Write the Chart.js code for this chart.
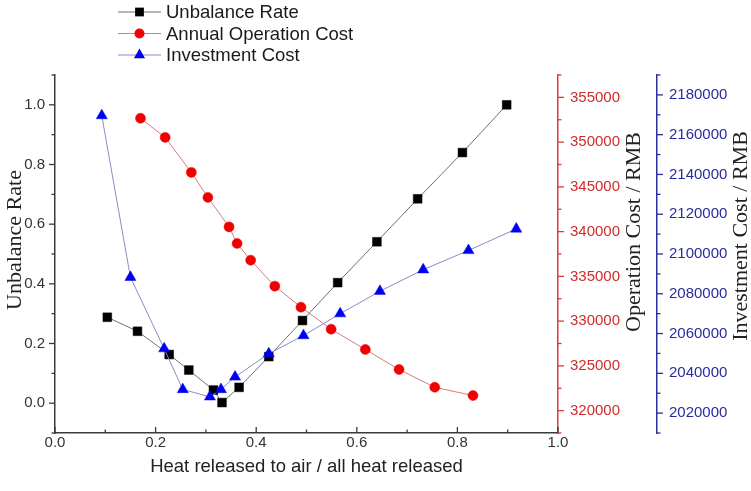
<!DOCTYPE html>
<html>
<head>
<meta charset="utf-8">
<script src="https://cdn.jsdelivr.net/npm/chart.js@4/dist/chart.umd.min.js"></script>
<style>
  html, body { margin: 0; padding: 0; background: #fff; }
  #wrap { width: 751px; height: 491px; }
</style>
</head>
<body>
<div id="wrap"><canvas id="c" width="751" height="491"></canvas></div>
<script>
// Share of heat released to air (x) for each series
const unbalanceX = [0.104, 0.164, 0.227, 0.266, 0.315, 0.332, 0.366, 0.425, 0.492, 0.562, 0.640, 0.721, 0.810, 0.898];
const unbalanceRate = [0.288, 0.241, 0.163, 0.111, 0.044, 0.002, 0.053, 0.156, 0.277, 0.404, 0.541, 0.685, 0.840, 1.000];

const operationX = [0.170, 0.219, 0.271, 0.304, 0.346, 0.362, 0.389, 0.437, 0.489, 0.549, 0.617, 0.684, 0.755, 0.831];
const operationCost = [352660, 350530, 346620, 343820, 340530, 338680, 336810, 333910, 331560, 329100, 326830, 324590, 322610, 321680];

const investmentX = [0.093, 0.150, 0.217, 0.254, 0.308, 0.330, 0.358, 0.425, 0.494, 0.567, 0.646, 0.732, 0.822, 0.917];
const investmentCost = [2169600, 2088300, 2052400, 2031900, 2028200, 2031900, 2038200, 2049900, 2059000, 2070000, 2081300, 2092100, 2101800, 2112600];

// Labelled tick values for each axis
const xTicks = [0.0, 0.2, 0.4, 0.6, 0.8, 1.0];
const rateTicks = [0.0, 0.2, 0.4, 0.6, 0.8, 1.0];
const operationTicks = [320000, 325000, 330000, 335000, 340000, 345000, 350000, 355000];
const investmentTicks = [2020000, 2040000, 2060000, 2080000, 2100000, 2120000, 2140000, 2160000, 2180000];

const seriesNames = ['Unbalance Rate', 'Annual Operation Cost', 'Investment Cost'];
const xTitle = 'Heat released to air / all heat released';
const rateTitle = 'Unbalance Rate';
const operationTitle = 'Operation Cost / RMB';
const investmentTitle = 'Investment Cost / RMB';

const SANS = '"Liberation Sans", Arial, sans-serif';
const SERIF = '"Liberation Serif", "Times New Roman", serif';
const RED_AXIS = '#dd3b3b';
const RED_TEXT = '#d02c2c';
const BLUE_AXIS = '#2e2e9e';
const BLUE_TEXT = '#2a2aa0';
const DARK = '#3a3a3a';

const toPoints = (xs, ys) => xs.map((x, i) => ({ x, y: ys[i] }));
const fixedTicks = vals => scale => { scale.ticks = vals.map(v => ({ value: v })); };

const styles = [
  { line: '#707070', fill: '#000000', shape: 'rect', radius: 6.2 },
  { line: '#d77b7b', fill: '#f00000', shape: 'circle', radius: 5 },
  { line: '#8a8ac8', fill: '#0000f0', shape: 'triangle', radius: 6.4 }
];

const data = {
  datasets: [
    { label: seriesNames[0], data: toPoints(unbalanceX, unbalanceRate), yAxisID: 'yRate' },
    { label: seriesNames[1], data: toPoints(operationX, operationCost), yAxisID: 'yOper' },
    { label: seriesNames[2], data: toPoints(investmentX, investmentCost), yAxisID: 'yInv' }
  ].map((ds, i) => Object.assign(ds, {
    showLine: true,
    borderColor: styles[i].line,
    borderWidth: 1,
    pointStyle: styles[i].shape,
    pointRadius: styles[i].radius,
    pointBackgroundColor: styles[i].fill,
    pointBorderColor: styles[i].fill,
    pointBorderWidth: 0.5,
    tension: 0,
    order: 3 - i
  }))
};

// Tick marks (major + minor), axis titles and the legend drawn on top
function drawTickMarks(ctx, scale, from, to, step, majors, side, color) {
  ctx.save();
  ctx.strokeStyle = color;
  ctx.lineWidth = 1.3;
  const n = Math.round((to - from) / step);
  for (let k = 0; k <= n; k++) {
    const v = from + k * step;
    const isMajor = majors.some(m => Math.abs(m - v) < step / 100);
    const len = isMajor ? 6 : 3.5;
    const p = scale.getPixelForValue(v);
    ctx.beginPath();
    if (side === 'left') { ctx.moveTo(scale.right, p); ctx.lineTo(scale.right - len, p); }
    else if (side === 'right') { ctx.moveTo(scale.left, p); ctx.lineTo(scale.left + len, p); }
    else { ctx.moveTo(p, scale.top); ctx.lineTo(p, scale.top - len); }
    ctx.stroke();
  }
  ctx.restore();
}

function drawMarker(ctx, shape, x, y, r) {
  Chart.helpers.drawPoint(ctx, { pointStyle: shape, radius: r, rotation: 0, borderWidth: 0 }, x, y);
}

const decor = {
  id: 'decor',
  afterDraw(chart) {
    const ctx = chart.ctx;
    const s = chart.scales;
    const area = chart.chartArea;

    drawTickMarks(ctx, s.yRate, -0.1, 1.1, 0.1, rateTicks, 'left', DARK);
    drawTickMarks(ctx, s.x, 0, 1.0, 0.1, xTicks, 'bottom', DARK);
    drawTickMarks(ctx, s.yOper, 317500, 357500, 2500, operationTicks, 'right', RED_AXIS);
    drawTickMarks(ctx, s.yInv, 2010000, 2190000, 10000, investmentTicks, 'right', BLUE_AXIS);

    // Axis titles
    ctx.save();
    ctx.fillStyle = '#222';
    ctx.textAlign = 'center';
    ctx.textBaseline = 'middle';
    ctx.font = '18.5px ' + SANS;
    ctx.fillText(xTitle, (area.left + area.right) / 2, 467);
    ctx.font = '22px ' + SERIF;
    const vertical = (text, x, y) => {
      ctx.save();
      ctx.translate(x, y);
      ctx.rotate(-Math.PI / 2);
      ctx.fillText(text, 0, 0);
      ctx.restore();
    };
    vertical(rateTitle, 15, 240);
    vertical(operationTitle, 634, 232);
    vertical(investmentTitle, 741, 236);
    ctx.restore();

    // Legend
    ctx.save();
    ctx.font = '18.5px ' + SANS;
    ctx.textBaseline = 'middle';
    ctx.textAlign = 'left';
    const rows = [12, 33.5, 55];
    chart.data.datasets.forEach((ds, i) => {
      const y = rows[i];
      ctx.strokeStyle = styles[i].line;
      ctx.lineWidth = 1;
      ctx.beginPath();
      ctx.moveTo(118, y);
      ctx.lineTo(161, y);
      ctx.stroke();
      ctx.fillStyle = styles[i].fill;
      ctx.strokeStyle = styles[i].fill;
      drawMarker(ctx, styles[i].shape, 139.5, y, styles[i].radius);
      ctx.fillStyle = '#1a1a1a';
      ctx.fillText(ds.label, 166, y + 1);
    });
    ctx.restore();
  }
};

const tickFont = { family: SANS, size: 15 };
const noGrid = { display: false, drawTicks: false, tickLength: 0 };

new Chart(document.getElementById('c'), {
  type: 'scatter',
  data,
  plugins: [decor],
  options: {
    responsive: false,
    animation: false,
    devicePixelRatio: 1,
    layout: { padding: { top: 75, left: 0, right: 0, bottom: 0 } },
    plugins: { legend: { display: false }, tooltip: { enabled: false } },
    scales: {
      x: {
        type: 'linear',
        position: 'bottom',
        min: 0, max: 1.0,
        afterBuildTicks: fixedTicks(xTicks),
        afterFit: sc => { sc.height = 58; },
        grid: noGrid,
        border: { display: true, color: DARK, width: 1.5 },
        ticks: { color: '#333', font: tickFont, padding: 1, maxRotation: 0, callback: v => v.toFixed(1) }
      },
      yRate: {
        type: 'linear',
        position: 'left',
        min: -0.1, max: 1.1,
        afterBuildTicks: fixedTicks(rateTicks),
        afterFit: sc => { sc.width = 55; },
        grid: noGrid,
        border: { display: true, color: DARK, width: 1.5 },
        ticks: { color: '#333', font: tickFont, padding: 10, callback: v => v.toFixed(1) }
      },
      yOper: {
        type: 'linear',
        position: 'right',
        weight: 0,
        min: 317500, max: 357500,
        afterBuildTicks: fixedTicks(operationTicks),
        afterFit: sc => { sc.width = 99; },
        grid: noGrid,
        border: { display: true, color: RED_AXIS, width: 1.5 },
        ticks: { color: RED_TEXT, font: tickFont, padding: 12, callback: v => String(v) }
      },
      yInv: {
        type: 'linear',
        position: 'right',
        weight: 1,
        min: 2010000, max: 2190000,
        afterBuildTicks: fixedTicks(investmentTicks),
        afterFit: sc => { sc.width = 94; },
        grid: noGrid,
        border: { display: true, color: BLUE_AXIS, width: 1.5 },
        ticks: { color: BLUE_TEXT, font: tickFont, padding: 12, callback: v => String(v) }
      }
    }
  }
});
</script>
</body>
</html>
